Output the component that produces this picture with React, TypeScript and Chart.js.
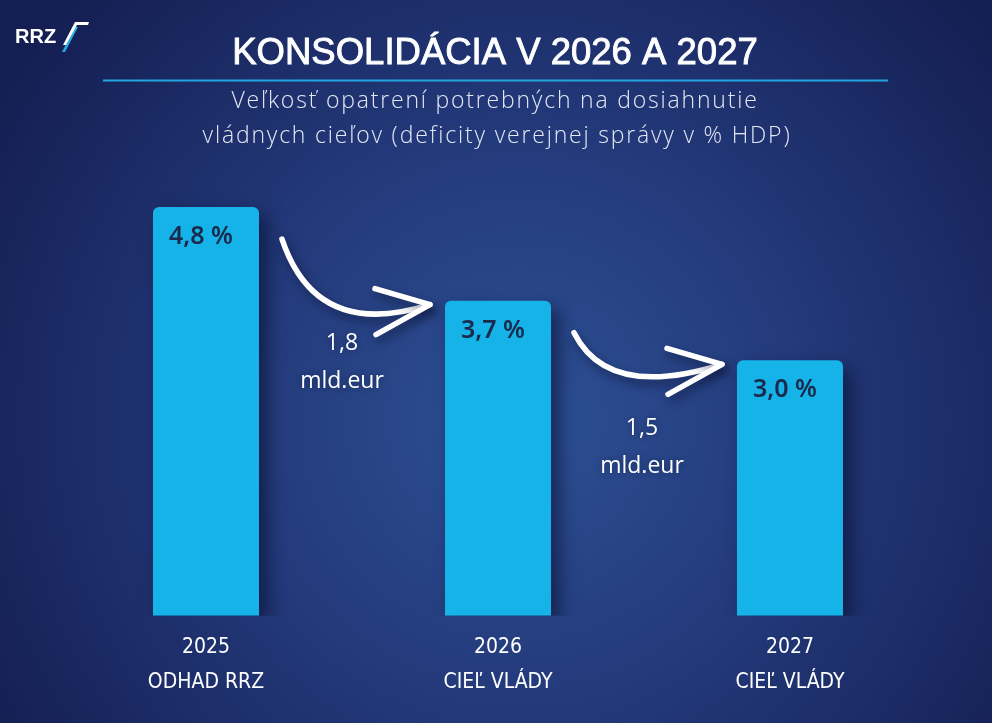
import React, { useEffect, useRef } from "react";
import { Chart, registerables } from "chart.js";

Chart.register(...registerables);

const years = ["2025", "2026", "2027"];
const subLabels = ["ODHAD RRZ", "CIEĽ VLÁDY", "CIEĽ VLÁDY"];
const deficit = [4.8, 3.7, 3.0];
const deficitLabels = ["4,8 %", "3,7 %", "3,0 %"];
const measureAmounts = ["1,8", "1,5"];
const measureUnit = "mld.eur";
const titleText = "KONSOLIDÁCIA V 2026 A 2027";
const subtitleLines = [
  "Veľkosť opatrení potrebných na dosiahnutie",
  "vládnych cieľov (deficity verejnej správy v % HDP)",
];

const W = 992;
const H = 723;

const backgroundPlugin = {
  id: "bgDecor",
  beforeDraw(chart: any) {
    const { ctx } = chart;
    ctx.save();
    const g = ctx.createRadialGradient(520, 420, 20, 520, 420, 620);
    g.addColorStop(0, "#2c4f93");
    g.addColorStop(0.45, "#23397a");
    g.addColorStop(1, "#141e52");
    ctx.fillStyle = g;
    ctx.fillRect(0, 0, W, H);

    // logo
    ctx.fillStyle = "#ffffff";
    ctx.font = "bold 20px 'Liberation Sans', Arial, sans-serif";
    ctx.textAlign = "left";
    ctx.textBaseline = "middle";
    ctx.fillText("RRZ", 15, 37);
    ctx.fillStyle = "#2aa9e6";
    ctx.beginPath();
    ctx.moveTo(62, 52);
    ctx.lineTo(65, 52);
    ctx.lineTo(78, 27);
    ctx.lineTo(75, 27);
    ctx.closePath();
    ctx.fill();
    ctx.fillStyle = "#ffffff";
    ctx.beginPath();
    ctx.moveTo(63, 45);
    ctx.lineTo(66, 45);
    ctx.lineTo(77, 25);
    ctx.lineTo(88, 25);
    ctx.lineTo(89, 22);
    ctx.lineTo(75, 22);
    ctx.closePath();
    ctx.fill();

    // title
    ctx.textAlign = "center";
    ctx.textBaseline = "middle";
    ctx.fillStyle = "#ffffff";
    ctx.strokeStyle = "#ffffff";
    ctx.lineWidth = 0.9;
    ctx.font = "36.5px 'Liberation Sans', Arial, sans-serif";
    ctx.fillText(titleText, 495, 54);
    ctx.strokeText(titleText, 495, 54);
    ctx.strokeStyle = "#23a6df";
    ctx.lineWidth = 2;
    ctx.beginPath();
    ctx.moveTo(103, 80.5);
    ctx.lineTo(888, 80.5);
    ctx.stroke();

    ctx.fillStyle = "#e3e8f3";
    ctx.font = "300 23px 'Open Sans', sans-serif";
    (ctx as any).letterSpacing = "1.8px";
    ctx.fillText(subtitleLines[0], 495, 101);
    ctx.fillText(subtitleLines[1], 497, 136);
    (ctx as any).letterSpacing = "0px";
    ctx.restore();
  },
  beforeDatasetsDraw(chart: any) {
    const { ctx } = chart;
    ctx.save();
    ctx.shadowColor = "rgba(5,10,35,0.55)";
    ctx.shadowBlur = 18;
    ctx.shadowOffsetX = 8;
    ctx.shadowOffsetY = 8;
  },
  afterDatasetsDraw(chart: any) {
    const { ctx } = chart;
    ctx.restore();
    const meta = chart.getDatasetMeta(0);
    const els = meta.data;
    // values inside bars
    ctx.save();
    ctx.fillStyle = "#1b2a4c";
    ctx.font = "600 25px 'Noto Sans', sans-serif";
    ctx.textAlign = "center";
    ctx.textBaseline = "middle";
    els.forEach((el: any, i: number) => {
      ctx.fillText(deficitLabels[i], el.x - 5, el.y + 30);
    });
    ctx.restore();

    // arrows and consolidation amounts
    const textOffsets = [
      { dx: -10, dy: 43 },
      { dx: -2, dy: 68 },
    ];
    for (let i = 0; i < els.length - 1; i++) {
      const a = els[i];
      const b = els[i + 1];
      const aRight = a.x + a.width / 2;
      const bLeft = b.x - b.width / 2;
      const sx = aRight + 23;
      const sy = a.y + 32;
      const tx = bLeft - 15;
      const ty = b.y + 4;
      const cx = sx + 34;
      const cy = ty + 36;
      ctx.save();
      ctx.shadowColor = "rgba(5,10,35,0.5)";
      ctx.shadowBlur = 10;
      ctx.shadowOffsetX = 3;
      ctx.shadowOffsetY = 5;
      ctx.strokeStyle = "#ffffff";
      ctx.lineCap = "round";
      ctx.lineJoin = "round";
      ctx.lineWidth = 5.5;
      ctx.beginPath();
      ctx.moveTo(sx, sy);
      ctx.quadraticCurveTo(cx, cy, tx, ty);
      ctx.stroke();
      ctx.lineWidth = 5.5;
      ctx.beginPath();
      ctx.moveTo(tx - 55, ty - 16);
      ctx.lineTo(tx, ty);
      ctx.lineTo(tx - 54, ty + 30);
      ctx.stroke();
      ctx.restore();

      const mx = (aRight + bLeft) / 2 + textOffsets[i].dx;
      const my = b.y + textOffsets[i].dy;
      ctx.save();
      ctx.fillStyle = "#ffffff";
      ctx.font = "23px 'Open Sans', sans-serif";
      ctx.textAlign = "center";
      ctx.textBaseline = "middle";
      ctx.shadowColor = "rgba(5,10,35,0.4)";
      ctx.shadowBlur = 6;
      ctx.fillText(measureAmounts[i], mx, my);
      ctx.fillText(measureUnit, mx, my + 38);
      ctx.restore();
    }
  },
};

export default function App() {
  const ref = useRef<HTMLCanvasElement | null>(null);
  useEffect(() => {
    if (!ref.current) return;
    const chart = new Chart(ref.current, {
      type: "bar",
      data: {
        labels: years.map((y, i) => [y, subLabels[i]]),
        datasets: [
          {
            data: deficit,
            backgroundColor: "#15b3e8",
            borderRadius: { topLeft: 6, topRight: 6, bottomLeft: 0, bottomRight: 0 },
            borderSkipped: "bottom",
            categoryPercentage: 1,
            barPercentage: 0.363,
          },
        ],
      },
      options: {
        animation: false,
        responsive: true,
        maintainAspectRatio: false,
        layout: { padding: { left: 60, right: 56, top: 190, bottom: 8 } },
        plugins: {
          legend: { display: false },
          tooltip: { enabled: false },
          title: { display: false },
        },
        scales: {
          y: { display: false, min: 0, max: 5 },
          x: {
            grid: { display: false, drawTicks: false },
            border: { display: false },
            ticks: {
              color: "#ffffff",
              padding: 15,
              font: { family: "'DejaVu Sans Condensed', sans-serif", size: 21, lineHeight: 1.65 },
            },
          },
        },
      },
      plugins: [backgroundPlugin],
    });
    return () => chart.destroy();
  }, []);
  return (
    <div style={{ position: "absolute", left: 0, top: 0, width: W, height: H }}>
      <canvas ref={ref} />
    </div>
  );
}
